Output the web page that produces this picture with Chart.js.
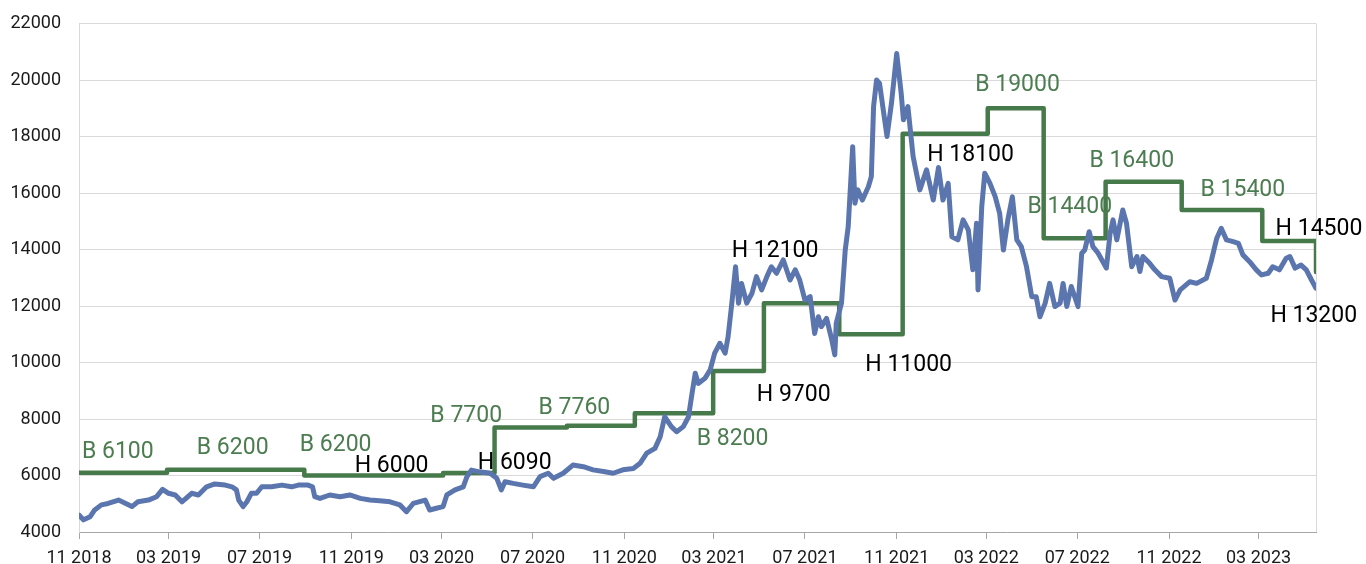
<!DOCTYPE html>
<html><head><meta charset="utf-8">
<script src="https://cdn.jsdelivr.net/npm/chart.js@4.4.0/dist/chart.umd.min.js"></script>
<style>html,body{margin:0;padding:0;background:#fff;overflow:hidden}#wrap{width:1366px;height:564px;position:relative}</style>
</head><body><div id="wrap"><canvas id="c" width="1366" height="564"></canvas></div>
<script>
// ---- data ----
const startDate = '2018-11-01';
const endDay = 1658; // last observation, days after startDate

// price series: days after startDate / value
const priceDays = [
  0,6,15,21,30,39,53,62,71,79,
  93,104,112,120,129,138,151,160,171,182,
  196,205,211,214,220,225,231,238,245,258,
  272,285,294,307,313,316,323,336,350,363,
  377,390,403,417,430,439,448,464,470,479,
  488,493,504,515,520,526,537,551,560,566,
  571,582,595,609,618,629,636,649,662,676,
  689,703,716,729,743,752,761,772,779,785,
  794,801,810,817,821,826,830,839,846,852,
  859,866,870,875,880,884,888,895,902,908,
  915,922,928,935,944,953,960,966,973,980,
  986,991,995,1002,1009,1013,1015,1022,1027,1031,
  1037,1040,1044,1050,1058,1062,1065,1069,1073,1083,
  1089,1096,1102,1105,1111,1118,1127,1136,1145,1152,
  1158,1165,1170,1178,1185,1192,1198,1203,1205,1210,
  1214,1221,1228,1234,1239,1245,1251,1257,1263,1270,
  1277,1283,1288,1295,1301,1308,1315,1319,1324,1330,
  1339,1344,1348,1354,1359,1366,1371,1377,1382,1386,
  1391,1399,1404,1411,1418,1422,1426,1435,1442,1451,
  1462,1469,1476,1489,1498,1511,1518,1525,1531,1538,
  1547,1554,1560,1569,1578,1585,1594,1600,1609,1618,
  1623,1630,1638,1645,1652,1658
];
const priceValues = [
  4600,4430,4540,4780,4960,5010,5130,5020,4900,5070,
  5130,5250,5510,5370,5310,5070,5370,5310,5600,5700,
  5660,5600,5490,5130,4900,5070,5370,5370,5600,5600,
  5660,5600,5660,5660,5600,5250,5190,5310,5250,5310,
  5190,5130,5110,5070,4960,4720,5010,5130,4780,4840,
  4900,5310,5490,5600,5960,6190,6130,6080,5900,5490,
  5780,5720,5660,5600,5960,6080,5900,6080,6370,6310,
  6200,6140,6080,6200,6250,6430,6790,6960,7370,8080,
  7730,7550,7730,8080,8790,9620,9260,9440,9740,10330,
  10680,10330,10910,12100,13390,12100,12800,12100,12450,13040,
  12570,13040,13390,13160,13630,12920,13280,12920,12210,12330,
  11030,11620,11270,11560,10800,10270,11390,12100,13980,14810,
  17640,15640,16110,15750,16220,16580,19060,20000,19880,18000,
  19180,20940,19530,18590,19060,17290,16110,16820,15750,16900,
  15750,16340,14450,14340,15050,14690,13280,14930,12570,15520,
  16700,16340,15870,15280,13980,15050,15870,14340,14100,13390,
  12330,12330,11620,12100,12800,11980,12100,12800,11980,12690,
  11980,13870,13980,14630,14100,13870,13630,13340,14570,15050,
  14340,15400,14930,13390,13750,13220,13750,13510,13280,13040,
  12980,12210,12570,12860,12800,12980,13630,14400,14750,14340,
  14280,14220,13810,13570,13280,13100,13160,13390,13280,13690,
  13750,13340,13450,13280,12920,12630
];

// target step series: start day of each level / level
const targetDays   = [0,118,302,488,557,654,745,850,918,1019,1104,1218,1293,1376,1478,1586,1658];
const targetValues = [6100,6200,6000,6090,7700,7760,8200,9700,12100,11000,18100,19000,14400,16400,15400,14300,13200];

// annotation texts and their anchors (day, value)
const labelTexts  = ['B 6100','B 6200','B 6200','H 6000','B 7700','H 6090','B 7760','B 8200','H 9700','H 12100','H 11000','H 18100','B 19000','B 14400','B 16400','B 15400','H 14500','H 13200'];
const labelDays   = [52,206,344,419,519,584,664,876,958,933,1112,1195,1258,1328,1411,1560,1662,1655];
const labelValues = [6830,6970,7055,6336,8106,6432,8379,7282,8850,13923,9912,17346,19824,15494,17109,16107,14716,11646];

// axis ticks
const tickDates  = ['2018-11-01','2019-03-01','2019-07-01','2019-11-01','2020-03-01','2020-07-01','2020-11-01','2021-03-01','2021-07-01','2021-11-01','2022-03-01','2022-07-01','2022-11-01','2023-03-01'];
const tickLabels = ['11 2018','03 2019','07 2019','11 2019','03 2020','07 2020','11 2020','03 2021','07 2021','11 2021','03 2022','07 2022','11 2022','03 2023'];
const yTicks = [4000,6000,8000,10000,12000,14000,16000,18000,20000,22000];

// ---- helpers ----
function dayOf(s){
  const p = s.split('-').map(Number), b = startDate.split('-').map(Number);
  return Math.round((Date.UTC(p[0],p[1]-1,p[2]) - Date.UTC(b[0],b[1]-1,b[2]))/86400000);
}
const tickDays = tickDates.map(dayOf);

const BLUE = '#5B76AE', GREEN = '#477A4B', GREEN_TXT = '#4C7D50';
const FONT = 'Roboto, "Liberation Sans", Arial, sans-serif';

const labelPlugin = {
  id: 'labels',
  afterDatasetsDraw(chart){
    const {ctx, scales:{x, y}, chartArea} = chart;
    ctx.save();
    // right border of the plot area
    ctx.strokeStyle = '#D9D9D9'; ctx.lineWidth = 1;
    ctx.beginPath();
    const rx = Math.round(chartArea.right) + 0.5;
    ctx.moveTo(rx, chartArea.top); ctx.lineTo(rx, chartArea.bottom); ctx.stroke();
    ctx.font = '23px ' + FONT;
    ctx.textAlign = 'center'; ctx.textBaseline = 'middle';
    labelTexts.forEach((t, i) => {
      ctx.fillStyle = t.charAt(0) === 'B' ? GREEN_TXT : '#000';
      ctx.fillText(t, x.getPixelForValue(labelDays[i]), y.getPixelForValue(labelValues[i]));
    });
    ctx.restore();
  }
};

new Chart(document.getElementById('c'), {
  type: 'line',
  data: {
    datasets: [
      {
        data: priceDays.map((d, i) => ({x: d, y: priceValues[i]})),
        borderColor: BLUE, borderWidth: 5, pointRadius: 0,
        borderJoinStyle: 'round', borderCapStyle: 'round', tension: 0
      },
      {
        data: targetDays.map((d, i) => ({x: d, y: targetValues[i]})),
        borderColor: GREEN, borderWidth: 4.5, pointRadius: 0, stepped: 'before',
        borderJoinStyle: 'round', borderCapStyle: 'round'
      }
    ]
  },
  options: {
    responsive: false, animation: false, events: [],
    layout: {padding: {left: 0, right: 50, top: 23.5, bottom: 0}},
    plugins: {legend: {display: false}, tooltip: {enabled: false}},
    scales: {
      x: {
        type: 'linear', min: 0, max: endDay,
        afterBuildTicks: s => { s.ticks = tickDays.map(v => ({value: v})); },
        afterFit: s => { s.height = 32; },
        ticks: {
          autoSkip: false, maxRotation: 0, padding: 9,
          color: '#1a1a1a', font: {size: 18, family: FONT},
          callback: (v) => { const i = tickDays.indexOf(v); return i >= 0 ? tickLabels[i] : ''; }
        },
        grid: {drawOnChartArea: false, drawTicks: true, tickLength: 7, color: '#A6A6A6', lineWidth: 1},
        border: {display: true, color: '#A6A6A6', width: 1}
      },
      y: {
        min: 4000, max: 22000,
        afterBuildTicks: s => { s.ticks = yTicks.map(v => ({value: v})); },
        afterFit: s => { s.width = 79; },
        ticks: {
          padding: 4, color: '#1a1a1a', font: {size: 18, family: FONT},
          callback: v => String(v)
        },
        grid: {color: '#D9D9D9', lineWidth: 1, drawTicks: true, tickLength: 14, tickColor: 'rgba(0,0,0,0)'},
        border: {display: true, color: '#D9D9D9', width: 1}
      }
    }
  },
  plugins: [labelPlugin]
});
</script></body></html>
